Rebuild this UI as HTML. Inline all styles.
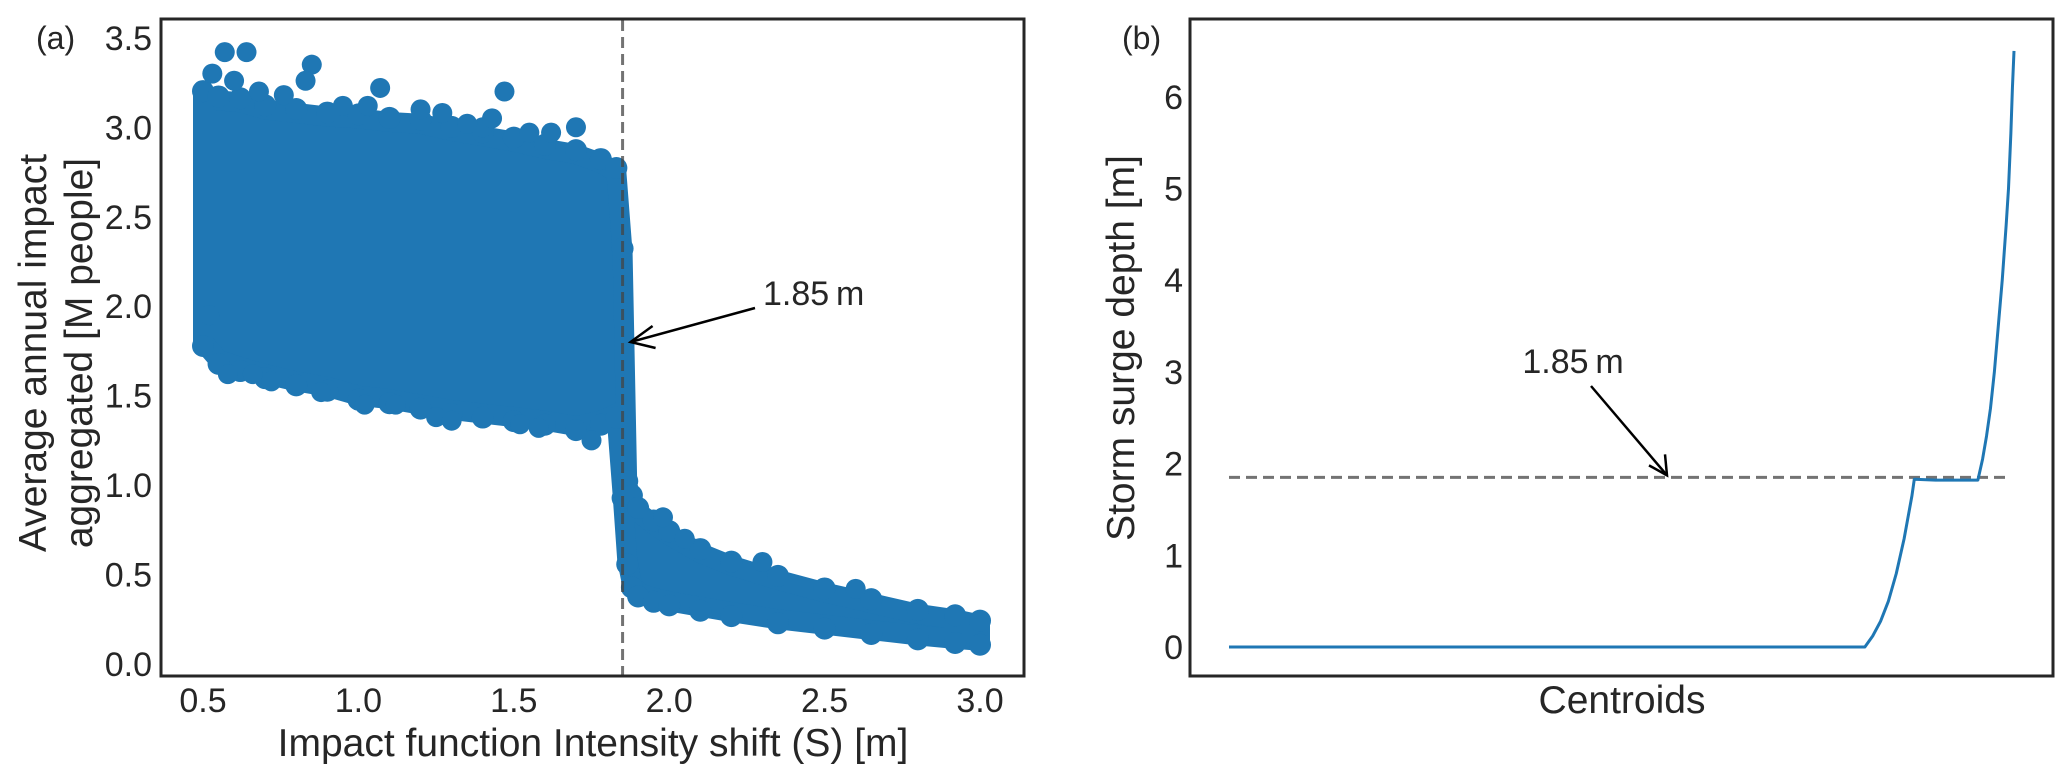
<!DOCTYPE html>
<html><head><meta charset="utf-8"><style>
html,body{margin:0;padding:0;background:#fff;}
svg{display:block;font-family:"Liberation Sans",Arial,sans-serif;}
</style></head><body>
<svg id="fig" width="2067" height="780" viewBox="0 0 2067 780" xmlns="http://www.w3.org/2000/svg">
<g id="pa"></g>
<g id="pb"></g>
</svg>
<script>
// Panel (a): scatter envelope (x in m, y in M people)
const envX    = [0.50,0.55,0.62,0.70,0.80,0.90,1.00,1.10,1.20,1.30,1.40,1.50,1.60,1.70,1.78,1.83,1.85,1.865,1.88,1.90,1.95,2.00,2.10,2.20,2.35,2.50,2.65,2.80,2.92,3.00];
const envHigh = [3.18,3.15,3.14,3.10,3.08,3.06,3.05,3.03,3.02,2.98,2.95,2.92,2.88,2.85,2.80,2.75,2.30,1.00,0.92,0.85,0.78,0.72,0.62,0.55,0.47,0.40,0.34,0.28,0.25,0.22];
const envLow  = [1.80,1.70,1.66,1.62,1.58,1.55,1.50,1.48,1.45,1.42,1.40,1.38,1.36,1.33,1.36,1.40,0.95,0.58,0.45,0.40,0.37,0.35,0.32,0.29,0.25,0.22,0.19,0.16,0.14,0.13];
const outX = [0.57,0.64,0.85,0.53,1.07,1.47,0.76,1.70,1.55,1.40,0.60,0.83,1.20,1.43,0.68,0.95,1.03,1.27,1.35,1.62,0.52,0.72,1.12,0.58,0.88,1.25,1.52,1.75,0.66,1.02,1.30,1.58,1.98,2.05,2.30,2.60];
const outY = [3.42,3.42,3.35,3.30,3.22,3.20,3.18,3.00,2.97,3.00,3.26,3.26,3.10,3.05,3.20,3.12,3.12,3.08,3.02,2.97,1.95,1.58,1.45,1.62,1.52,1.38,1.34,1.25,1.62,1.45,1.36,1.32,0.82,0.70,0.57,0.42];
const xTicksA = [0.5,1.0,1.5,2.0,2.5,3.0];
const yTicksA = [0.0,0.5,1.0,1.5,2.0,2.5,3.0,3.5];
const thresholdA = 1.85;

// Panel (b): sorted storm surge depth at centroid index (0..100)
const cIdx   = [0,20,40,60,81,82,83,84,85,86,87,87.3,90,93,95.4,96,96.5,97,97.5,98,98.5,99,99.3,99.6,99.8,100];
const depthB = [0,0,0,0,0,0.12,0.28,0.5,0.8,1.18,1.65,1.83,1.82,1.82,1.82,2.05,2.3,2.6,3.0,3.5,4.0,4.6,5.0,5.6,6.1,6.5];
const yTicksB = [0,1,2,3,4,5,6];
const thresholdB = 1.85;

const NS="http://www.w3.org/2000/svg";
function mk(parent,tag,attrs,text){const e=document.createElementNS(NS,tag);for(const k in attrs)e.setAttribute(k,attrs[k]);if(text!==undefined)e.textContent=text;parent.appendChild(e);return e;}

// ---------- Panel A ----------
const pa=document.getElementById('pa');
const xA=v=>203+(v-0.5)*310.8;
const yA=v=>664-v*178.9;
const BLUE="#1f77b4";
let pts=[];
for(let i=0;i<envX.length;i++)pts.push(xA(envX[i])+','+yA(envHigh[i]));
for(let i=envX.length-1;i>=0;i--)pts.push(xA(envX[i])+','+yA(envLow[i]));
const blob=mk(pa,'polygon',{points:pts.join(' '),fill:BLUE,stroke:BLUE,'stroke-width':20,'stroke-linejoin':'round'});


for(let i=0;i<envX.length;i++){
  const c1=mk(pa,'circle',{cx:xA(envX[i]),cy:yA(envHigh[i])-4,r:11,fill:BLUE});
  
  
  const c2=mk(pa,'circle',{cx:xA(envX[i]),cy:yA(envLow[i])+4,r:11,fill:BLUE});
  
  
}
for(let i=0;i<outX.length;i++){
  const c=mk(pa,'circle',{cx:xA(outX[i]),cy:yA(outY[i]),r:10,fill:BLUE});
  
  
}
const vl=mk(pa,'line',{x1:xA(thresholdA),x2:xA(thresholdA),y1:20,y2:676,stroke:'#444','stroke-opacity':0.75,'stroke-width':3,'stroke-dasharray':'11,6'});


const fa=mk(pa,'rect',{x:161,y:19,width:863,height:657,fill:'none',stroke:'#262626','stroke-width':3});


xTicksA.forEach(t=>{const e=mk(pa,'text',{x:xA(t),y:712,'font-size':34,'text-anchor':'middle',fill:'#262626'},t.toFixed(1));
  
  });
yTicksA.forEach(t=>{const e=mk(pa,'text',{x:152,y:yA(t)+12,'font-size':34,'text-anchor':'end',fill:'#262626'},t.toFixed(1));
  
  });
const ax=xA(thresholdA)+8, ay=yA(1.8);
const ar=mk(pa,'line',{x1:755,y1:308,x2:ax,y2:ay,stroke:'#000','stroke-width':2.5});


mk(pa,'polyline',{points:`${ax+22},${ay-16} ${ax},${ay} ${ax+25},${ay+6}`,fill:'none',stroke:'#000','stroke-width':2.5});

const fig=document.getElementById('fig');
function T(x,y,size,txt,name,extra){const e=mk(fig,'text',Object.assign({x:x,y:y,'font-size':size,fill:'#262626'},extra||{}),txt);return e;}
T(763,305,34,'1.85\u2009m','annotation-label-a');
T(36,49,32,'(a)','panel-label-a');
T(593,756,39,'Impact function Intensity shift (S) [m]','x-axis-title-a',{'text-anchor':'middle'});
T(46,353,39,'Average annual impact','y-axis-title-a-line1',{'text-anchor':'middle',transform:'rotate(-90 46 353)'});
T(92,353,39,'aggregated [M people]','y-axis-title-a-line2',{'text-anchor':'middle',transform:'rotate(-90 92 353)'});

// ---------- Panel B ----------
const pb=document.getElementById('pb');
const xB=i=>1229+i*7.85;
const yB=v=>647-v*91.7;
const dl=mk(pb,'line',{x1:xB(0),x2:xB(99.5),y1:yB(thresholdB),y2:yB(thresholdB),stroke:'#444','stroke-opacity':0.75,'stroke-width':3,'stroke-dasharray':'11,6'});


let lp=cIdx.map((c,i)=>xB(c)+','+yB(depthB[i])).join(' ');
const ln=mk(pb,'polyline',{points:lp,fill:'none',stroke:'#1f77b4','stroke-width':3,'stroke-linejoin':'round'});


const fb=mk(pb,'rect',{x:1190,y:19,width:863,height:657,fill:'none',stroke:'#262626','stroke-width':3});


yTicksB.forEach(t=>{const e=mk(pb,'text',{x:1183,y:yB(t)+12,'font-size':34,'text-anchor':'end',fill:'#262626'},String(t));
  
  });
const bx=1667,by=yB(thresholdB)-2;
const ar2=mk(pb,'line',{x1:1591,y1:386,x2:bx,y2:by,stroke:'#000','stroke-width':2.5});


mk(pb,'polyline',{points:`${bx-18},${by-10} ${bx},${by} ${bx-2},${by-21}`,fill:'none',stroke:'#000','stroke-width':2.5});
T(1573,373,34,'1.85\u2009m','annotation-label-b',{'text-anchor':'middle'});
T(1122,49,32,'(b)','panel-label-b');
T(1622,713,39,'Centroids','x-axis-title-b',{'text-anchor':'middle'});
T(1134,348,39,'Storm surge depth [m]','y-axis-title-b',{'text-anchor':'middle',transform:'rotate(-90 1134 348)'});
</script>
</body></html>
